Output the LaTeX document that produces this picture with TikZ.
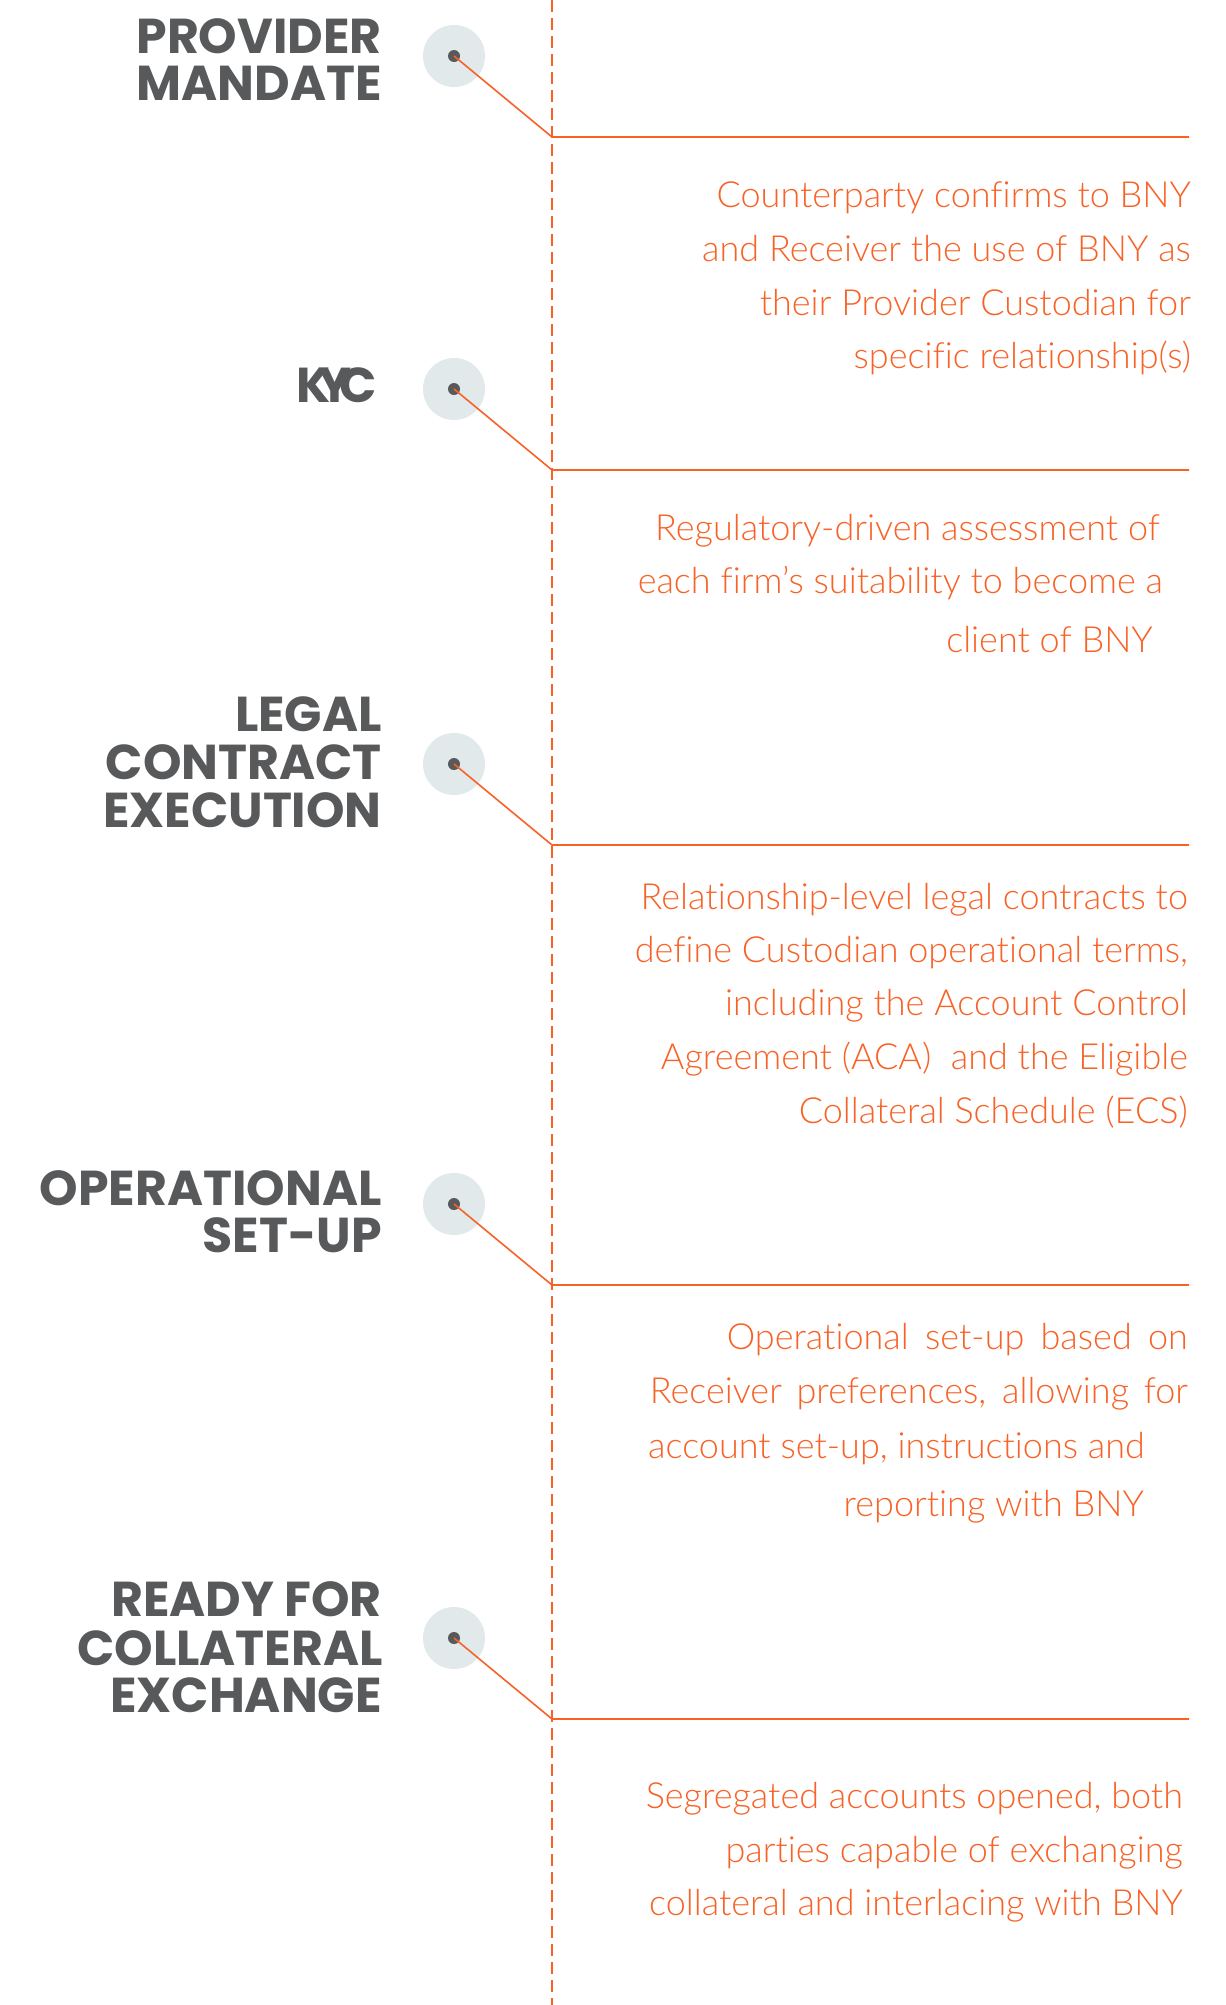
\documentclass[tikz,border=0pt]{standalone}
\usepackage{fontspec}
\newfontfamily\titlefont{Poppins}
\newfontfamily\descfont{Lato Light}[Ligatures=NoCommon]
\definecolor{tgray}{HTML}{58595B}
\definecolor{corange}{RGB}{248,98,38}
\definecolor{cfill}{HTML}{E1E9EB}
\begin{document}
\begin{tikzpicture}[x=1pt,y=-1pt,
  title/.style={anchor=base east,inner sep=0pt,font=\titlefont\bfseries\fontsize{49}{49}\selectfont,text=tgray},
  desc/.style={anchor=base east,inner sep=0pt,font=\descfont\fontsize{36}{36}\selectfont,text=corange},
  descl/.style={anchor=base west,inner sep=0pt,font=\descfont\fontsize{36}{36}\selectfont,text=corange},
  halo/.style={circle,fill=cfill,minimum size=62pt,inner sep=0pt},
  dot/.style={circle,fill=tgray,minimum size=12pt,inner sep=0pt},
  link/.style={draw=corange,line width=1.6pt},
  spine/.style={draw=corange,line width=1.8pt,dash pattern=on 12pt off 6pt}]
\useasboundingbox (0,0) rectangle (1226,2005);
\fill[white] (0,0) rectangle (1226,2005);
% spine
\coordinate (top) at (552,0);
\coordinate (bot) at (552,2005);
\draw[spine] (top) -- (bot);
% steps
\foreach \n/\y in {1/56,2/389,3/764,4/1204,5/1638}{
  \node[halo] (h\n) at (454,\y) {};
  \node[dot] (d\n) at (454,\y) {};
  \coordinate (c\n) at (552,\y+81);
  \coordinate (e\n) at (1189,\y+81);
  \draw[link] (d\n.center) -- (c\n) -- (e\n);
}
% titles
\node[title] (t1a) at (382,53) {PROVIDER};
\node[title] (t1b) at (382,100) {MANDATE};
\node[title] (t2) at (377,402) {K\kern-12pt Y\kern-12pt C};
\node[title] (t3a) at (382,731) {LEGAL};
\node[title] (t3b) at (382,779) {CONTRACT};
\node[title] (t3c) at (382,827) {EXECUTION};
\node[title] (t4a) at (382,1205) {OPERATIONAL};
\node[title] (t4b) at (382,1252) {SET-UP};
\node[title] (t5a) at (382,1616) {READY FOR};
\node[title] (t5b) at (383,1665) {COLLATERAL};
\node[title] (t5c) at (382,1712) {EXCHANGE};
% descriptions
\node[desc] (p1a) at (1191,207) {Counterparty confirms to BNY};
\node[desc] (p1b) at (1191,261) {and Receiver the use of BNY as};
\node[desc] (p1c) at (1191,315) {their Provider Custodian for};
\node[desc] (p1d) at (1191,368) {specific relationship(s)};
\node[desc] (p2a) at (1160,540) {Regulatory-driven assessment of};
\node[desc] (p2b) at (1163,593) {each firm’s suitability to become a};
\node[desc] (p2c) at (1153,652) {client of BNY};
\node[desc] (p3a) at (1188,909) {Relationship-level legal contracts to};
\node[desc] (p3b) at (1188,962) {define Custodian operational terms,};
\node[desc] (p3c) at (1188,1015) {including the Account Control};
\node[desc] (p3d) at (1188,1069) {Agreement (ACA)\ \ and the Eligible};
\node[desc] (p3e) at (1188,1123) {Collateral Schedule (ECS)};
\node[desc] (p4a) at (1188,1349) {\makebox[461pt][s]{Operational set-up based on}};
\node[desc] (p4b) at (1188,1403) {\makebox[538pt][s]{Receiver preferences, allowing for}};
\node[descl] (p4c) at (648,1458) {account set-up, instructions and};
\node[desc] (p4d) at (1144,1516) {reporting with BNY};
\node[desc] (p5a) at (1183,1808) {Segregated accounts opened, both};
\node[desc] (p5b) at (1183,1862) {parties capable of exchanging};
\node[desc] (p5c) at (1183,1915) {collateral and interlacing with BNY};
\end{tikzpicture}
\end{document}
